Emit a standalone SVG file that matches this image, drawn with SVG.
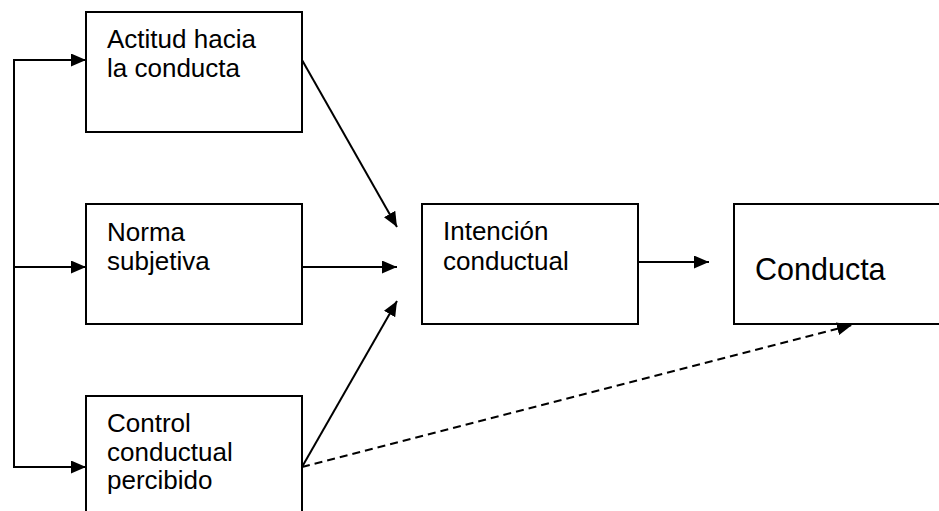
<svg xmlns="http://www.w3.org/2000/svg" width="939" height="511" viewBox="0 0 939 511">
<style>
.box{fill:#fff;stroke:#000;stroke-width:2}
.t{font-family:"Liberation Sans",Arial,sans-serif;font-size:26px;fill:#000}
.big{font-size:30.5px}
.c{fill:none;stroke:#000;stroke-width:2}
.d{stroke-dasharray:8,5}
</style>
<defs>
<marker id="ah" markerUnits="userSpaceOnUse" markerWidth="15" markerHeight="13" refX="15" refY="6.5" orient="auto">
<path d="M0,0 L15,6.5 L0,13 z" fill="#000"/>
</marker>
</defs>
<rect width="939" height="511" fill="#fff"/>
<g id="actitud">
<rect class="box" x="86" y="12" width="216" height="120"/>
<text class="t" x="107" y="48">Actitud hacia</text>
<text class="t" x="107" y="77">la conducta</text>
</g>
<g id="norma">
<rect class="box" x="86" y="204" width="216" height="120"/>
<text class="t" x="107" y="241">Norma</text>
<text class="t" x="107" y="270">subjetiva</text>
</g>
<g id="control">
<rect class="box" x="86" y="396" width="216" height="120"/>
<text class="t" x="107" y="432">Control</text>
<text class="t" x="107" y="461">conductual</text>
<text class="t" x="107" y="489">percibido</text>
</g>
<g id="intencion">
<rect class="box" x="422" y="204" width="216" height="120"/>
<text class="t" x="443" y="240">Intención</text>
<text class="t" x="443" y="270">conductual</text>
</g>
<g id="conducta">
<rect class="box" x="734" y="204" width="216" height="120"/>
<text class="t big" x="755" y="280">Conducta</text>
</g>
<g id="connectors">
<polyline class="c" points="86,60 14,60 14,467 86,467" marker-end="url(#ah)"/>
<path class="c" d="M14,60 H86" marker-end="url(#ah)"/>
<path class="c" d="M14,267 H86" marker-end="url(#ah)"/>
<path class="c" d="M302,60 L397,227" marker-end="url(#ah)"/>
<path class="c" d="M302,267 H397" marker-end="url(#ah)"/>
<path class="c" d="M302,467 L397,301" marker-end="url(#ah)"/>
<path class="c" d="M638,262 H709" marker-end="url(#ah)"/>
<path class="c d" d="M302,467 L852,325" marker-end="url(#ah)"/>
</g>
</svg>
